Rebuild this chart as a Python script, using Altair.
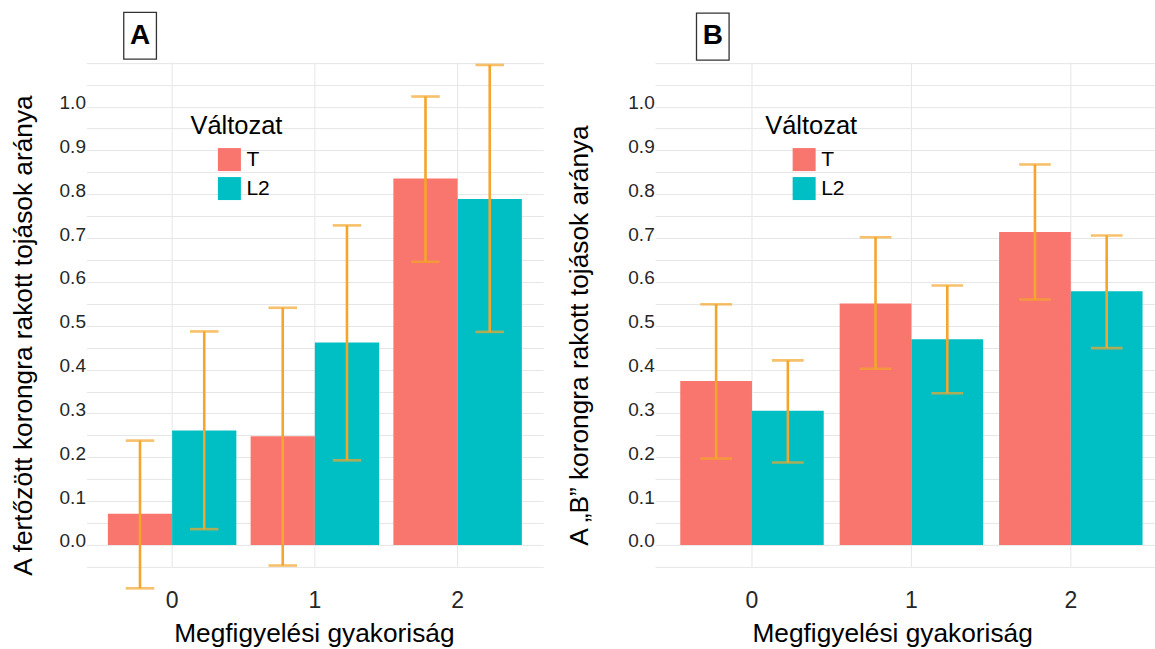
import altair as alt
import pandas as pd

GROUPS = ["0", "1", "2"]
VARIANTS = ["T", "L2"]
COLORS = ["#F8766D", "#00BFC4"]
ERR_COLOR = "#F4A52B"
GRID_COLOR = "#E6E6E6"
TICK_COLOR = "#262626"
PANEL_LABELS = ["A", "B"]
Y_TITLES = ["A fertőzött korongra rakott tojások aránya",
            "A „B” korongra rakott tojások aránya"]
X_TITLE = "Megfigyelési gyakoriság"
LEGEND_TITLE = "Változat"
GRID_VALUES = [-0.05, 0.0, 0.05, 0.1, 0.15, 0.2, 0.25, 0.3, 0.35, 0.4, 0.45, 0.5,
               0.55, 0.6, 0.65, 0.7, 0.75, 0.8, 0.85, 0.9, 0.95, 1.0, 1.05, 1.1]
VGRID_MIN = -0.05
VGRID_MAX = 1.10

# Panel A
A_T_MEAN = [0.071, 0.248, 0.836]
A_T_LOW = [-0.099, -0.047, 0.646]
A_T_HIGH = [0.238, 0.541, 1.023]
A_L2_MEAN = [0.261, 0.462, 0.789]
A_L2_LOW = [0.036, 0.193, 0.486]
A_L2_HIGH = [0.487, 0.729, 1.095]

# Panel B
B_T_MEAN = [0.374, 0.551, 0.714]
B_T_LOW = [0.197, 0.402, 0.560]
B_T_HIGH = [0.549, 0.702, 0.868]
B_L2_MEAN = [0.306, 0.469, 0.579]
B_L2_LOW = [0.188, 0.346, 0.449]
B_L2_HIGH = [0.421, 0.592, 0.706]

Y_DOMAIN = [-0.1026, 1.2315]
PLOT_H = 585
TITLE_SIZE = 26.3

LABEL_EXPR = ("abs(datum.value*10 - round(datum.value*10)) < 0.001 && datum.value > -0.001 "
              "&& datum.value < 1.001 ? format(datum.value, '.1f') : ''")


def make_df(t_mean, t_low, t_high, l_mean, l_low, l_high):
    rows = []
    for i, g in enumerate(GROUPS):
        rows.append(dict(group=g, variant="T", mean=t_mean[i], low=t_low[i], high=t_high[i]))
        rows.append(dict(group=g, variant="L2", mean=l_mean[i], low=l_low[i], high=l_high[i]))
    return pd.DataFrame(rows)


def panel(df, label, ytitle, width, xscale, ytitle_x, xtitle_x, legend_x, box, letter_xy, cap):
    x_axis = alt.Axis(labelAngle=0, labelFontSize=23, labelColor=TICK_COLOR, labelPadding=0,
                      ticks=False, domain=False, grid=False,
                      titleFontSize=TITLE_SIZE, titleFontWeight="normal", titleColor="black",
                      titleX=xtitle_x, titleY=51.7, titleAlign="center",
                      titleBaseline="alphabetic")
    y_axis = alt.Axis(values=GRID_VALUES, labelExpr=LABEL_EXPR, labelFontSize=19,
                      labelColor=TICK_COLOR, labelPadding=1, labelOffset=-4,
                      ticks=False, domain=False, grid=True, gridColor=GRID_COLOR, gridWidth=1,
                      titleFontSize=TITLE_SIZE, titleFontWeight="normal", titleColor="black",
                      titleAngle=270, titleX=ytitle_x, titleY=330,
                      titleBaseline="alphabetic", titleAlign="center")
    y_scale = alt.Scale(domain=Y_DOMAIN, nice=False, zero=False)

    def xe():
        return alt.X("group:N", sort=GROUPS, scale=xscale, title=X_TITLE, axis=x_axis)

    def off():
        return alt.XOffset("variant:N", sort=VARIANTS,
                           scale=alt.Scale(domain=VARIANTS, paddingInner=0, paddingOuter=0))

    def ye(field):
        return alt.Y(field, scale=y_scale, title=ytitle, axis=y_axis)

    grid_df = pd.DataFrame({"group": GROUPS, "g0": [VGRID_MIN] * len(GROUPS),
                            "g1": [VGRID_MAX] * len(GROUPS)})
    vgrid = alt.Chart(grid_df).mark_rule(color=GRID_COLOR, strokeWidth=1).encode(
        x=xe(), y=ye("g0:Q"), y2="g1:Q")

    base = alt.Chart(df)
    bars = base.mark_bar().encode(
        x=xe(), xOffset=off(), y=ye("mean:Q"),
        color=alt.Color("variant:N", sort=VARIANTS,
                        scale=alt.Scale(domain=VARIANTS, range=COLORS),
                        legend=alt.Legend(orient="none", legendX=legend_x, legendY=109,
                                          title=LEGEND_TITLE, titleFontSize=25.5,
                                          titleFontWeight="normal", titleColor="black",
                                          titlePadding=8,
                                          labelFontSize=21, labelColor="black",
                                          labelOffset=5, symbolType="square",
                                          symbolOffset=27,
                                          symbolSize=530, symbolStrokeWidth=0,
                                          symbolOpacity=1, rowPadding=5, padding=0)))
    err = base.mark_rule(color=ERR_COLOR, strokeWidth=2.6).encode(
        x=xe(), xOffset=off(), y=ye("low:Q"), y2="high:Q")
    cap_hi = base.mark_tick(color=ERR_COLOR, thickness=2.6, size=cap, orient="horizontal").encode(
        x=xe(), xOffset=off(), y=ye("high:Q"))
    cap_lo = base.mark_tick(color=ERR_COLOR, thickness=2.6, size=cap, orient="horizontal").encode(
        x=xe(), xOffset=off(), y=ye("low:Q"))

    lab_df = pd.DataFrame({"label": [label]})
    frame = alt.Chart(lab_df).mark_rect(fill="white", stroke="#333333", strokeWidth=1.3).encode(
        x=alt.value(box[0]), x2=alt.value(box[1]), y=alt.value(box[2]), y2=alt.value(box[3]))
    letter = alt.Chart(lab_df).mark_text(fontSize=28, fontWeight="bold", color="black",
                                         align="center", baseline="middle").encode(
        x=alt.value(letter_xy[0]), y=alt.value(letter_xy[1]), text="label:N")

    return alt.layer(vgrid, bars, err, cap_hi, cap_lo, frame, letter).properties(
        width=width, height=PLOT_H)


df_a = make_df(A_T_MEAN, A_T_LOW, A_T_HIGH, A_L2_MEAN, A_L2_LOW, A_L2_HIGH)
df_b = make_df(B_T_MEAN, B_T_LOW, B_T_HIGH, B_L2_MEAN, B_L2_LOW, B_L2_HIGH)

panel_a = panel(df_a, PANEL_LABELS[0], Y_TITLES[0], 457,
                alt.Scale(paddingInner=0.1, paddingOuter=0.15),
                -54.5, 227.5, 104, (37.3, 70, 7.3, 54), (53.7, 30.7), 28.5)
panel_b = panel(df_b, PANEL_LABELS[1], Y_TITLES[1], 500,
                alt.Scale(paddingInner=0.1, paddingOuter=0.1175, align=0.668),
                -68, 237, 110, (41.3, 73.9, 8, 55), (57.6, 31), 31.7)

chart = alt.hconcat(panel_a, panel_b, spacing=23).resolve_scale(
    color="independent", x="independent", y="independent", xOffset="independent"
).resolve_legend(color="independent").properties(
    padding={"left": 10.5, "top": 5, "right": 0, "bottom": 0}
).configure(font="Liberation Sans", background="white").configure_view(
    strokeWidth=0, stroke="transparent")

chart.save("out.html", embed_options={"renderer": "svg", "actions": False})
